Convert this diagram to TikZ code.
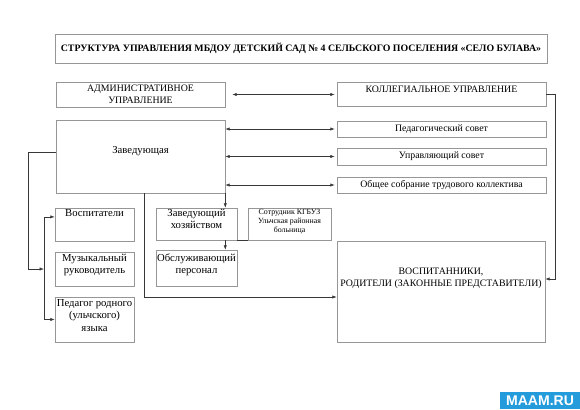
\documentclass[tikz,border=0pt]{standalone}
\usepackage{fontspec}
\setmainfont{Liberation Serif}
\newfontfamily\wmfont{Liberation Sans}
\usetikzlibrary{arrows.meta,positioning,calc}
\definecolor{boxgray}{RGB}{150,150,150}
\definecolor{lingray}{RGB}{55,55,55}
\definecolor{maamblue}{RGB}{36,156,220}
\tikzset{
  box/.style={draw=boxgray, line width=0.4pt, align=center, inner sep=0.5pt},
  ttl/.style={font=\fontsize{7}{8}\selectfont\bfseries},
  txt/.style={font=\fontsize{7}{8.6}\selectfont},
  big/.style={font=\fontsize{7.6}{8.6}\selectfont},
  tiny/.style={font=\fontsize{5.6}{6.6}\selectfont},
  arr/.style={-{Latex[length=1.1mm,width=0.8mm]}, lingray, line width=0.35pt},
  dar/.style={{Latex[length=1.1mm,width=0.8mm]}-{Latex[length=1.1mm,width=0.8mm]}, lingray, line width=0.35pt},
  ln/.style={lingray, line width=0.35pt},
}

\begin{document}
\begin{tikzpicture}
  \useasboundingbox (0,0) rectangle (14.5,10.225);
  % header
  \node[box, ttl, minimum width=12.3cm, minimum height=0.725cm] (title) at (7.525,9.0125)
    {СТРУКТУРА УПРАВЛЕНИЯ МБДОУ ДЕТСКИЙ САД № 4 СЕЛЬСКОГО ПОСЕЛЕНИЯ «СЕЛО БУЛАВА»};
  \node[box, txt, minimum width=4.225cm, minimum height=0.625cm] (adm) at (3.5125,7.8625)
    {АДМИНИСТРАТИВНОЕ\\УПРАВЛЕНИЕ};
  \node[box, txt, minimum width=5.225cm, minimum height=0.6cm, text depth=0.28cm] (koll) at (11.0375,7.8625)
    {КОЛЛЕГИАЛЬНОЕ УПРАВЛЕНИЕ};
  % head and councils
  \node[box, big, minimum width=4.225cm, minimum height=1.825cm, text depth=0.31cm] (zav) at (3.5125,6.3125)
    {Заведующая};
  \node[box, txt, minimum width=5.225cm, minimum height=0.4cm] (ped) at (11.0375,7.0) {Педагогический совет};
  \node[box, txt, minimum width=5.225cm, minimum height=0.425cm] (upr) at (11.0375,6.3125) {Управляющий совет};
  \node[box, txt, minimum width=5.225cm, minimum height=0.4cm] (obsch) at (11.0375,5.6)
    {Общее собрание трудового коллектива};
  % staff
  \node[box, big, minimum width=1.975cm, minimum height=0.825cm, text depth=0.55cm] (vosp) at (2.3625,4.6125)
    {Воспитатели};
  \node[box, big, minimum width=1.975cm, minimum height=0.85cm, text depth=0.25cm] (muz) at (2.3625,3.5)
    {Музыкальный\\руководитель};
  \node[box, big, minimum width=1.975cm, minimum height=1.125cm, text depth=0.2cm] (pedrod) at (2.3625,2.2375)
    {Педагог родного\\(ульчского)\\языка};
  \node[box, big, minimum width=2.025cm, minimum height=0.8cm, text depth=0.25cm] (zhoz) at (4.9125,4.625)
    {Заведующий\\хозяйством};
  \node[box, tiny, minimum width=2.075cm, minimum height=0.8cm, text depth=0.15cm] (sotr) at (7.2375,4.625)
    {Сотрудник КГБУЗ\\Ульчская районная\\больница};
  \node[box, big, minimum width=2.025cm, minimum height=0.9cm, text depth=0.22cm] (obsl) at (4.9125,3.525)
    {Обслуживающий\\персонал};
  \node[box, txt, minimum width=5.2cm, minimum height=2.525cm, text depth=0.7cm] (vospit) at (11.025,2.9375)
    {ВОСПИТАННИКИ,\\РОДИТЕЛИ (ЗАКОННЫЕ ПРЕДСТАВИТЕЛИ)};
  % connectors
  \draw[dar, shorten <=0.175cm, shorten >=0.05cm] (adm) -- (koll);
  \draw[dar, shorten >=0.05cm] (zav.east |- ped) -- (ped);
  \draw[dar, shorten >=0.05cm] (zav.east |- upr) -- (upr);
  \draw[dar, shorten >=0.05cm] (zav.east |- obsch) -- (obsch);
  \draw[arr] (koll.east) -- ++(0.225,0) |- ([yshift=0.3125cm]vospit.east);
  \draw[arr] ([xshift=0.09cm]zav.south) |- ([yshift=-0.1375cm]vospit.west);
  \draw[arr] (zav.south east) -- (zav.south east |- zhoz.north);
  \draw[arr] (zav.south east |- zhoz.south) -- (zav.south east |- obsl.north);
  \draw[ln] (zhoz.south east) -- (sotr.south west);
  \coordinate (jn) at (1.1,3.5);
  \draw[arr] ([yshift=0.11cm]zav.west) -- ++(-0.675,0) |- (jn);
  \draw[arr] (jn) |- ([yshift=0.19cm]vosp.west);
  \draw[arr] (jn) |- (pedrod.west);
  % watermark
  \node[fill=maamblue, text=white, inner sep=0pt, minimum width=2cm, minimum height=0.425cm,
        font=\wmfont\fontsize{10}{10}\selectfont\bfseries] (maam) at (13.5,0.2125) {MAAM.RU};
\end{tikzpicture}
\end{document}
